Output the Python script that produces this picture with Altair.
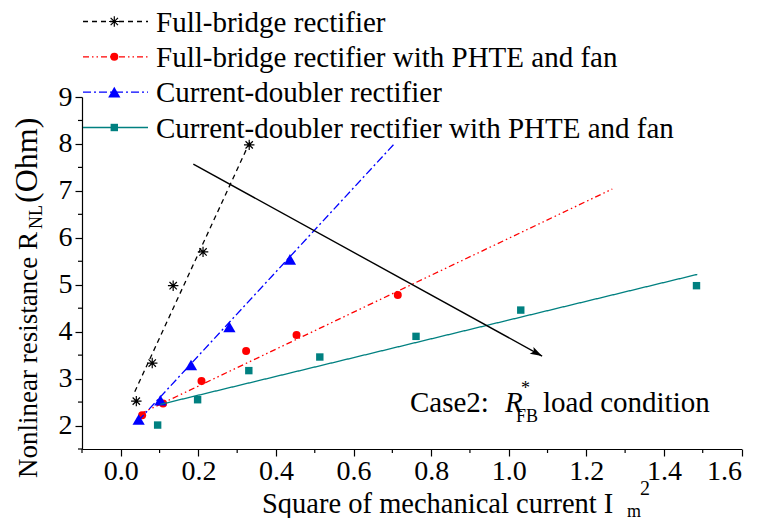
import altair as alt
import pandas as pd

# ---------------- data ----------------
fb_x = [0.040, 0.081, 0.135, 0.212, 0.331]
fb_y = [2.52, 3.33, 4.98, 5.70, 7.98]
fbp_x = [0.055, 0.109, 0.208, 0.323, 0.453, 0.714]
fbp_y = [2.22, 2.47, 2.95, 3.59, 3.93, 4.78]
cd_x = [0.046, 0.102, 0.181, 0.280, 0.436]
cd_y = [2.13, 2.54, 3.29, 4.10, 5.54]
cdp_x = [0.095, 0.198, 0.330, 0.513, 0.761, 1.031, 1.484]
cdp_y = [2.01, 2.55, 3.17, 3.46, 3.90, 4.46, 4.98]

# fitted lines (end points)
fb_fit_x = [0.036, 0.333]
fb_fit_y = [2.72, 8.05]
fbp_fit_x = [0.050, 1.267]
fbp_fit_y = [2.25, 7.04]
cd_fit_x = [0.045, 0.708]
cd_fit_y = [2.10, 8.03]
cdp_fit_x = [0.102, 1.486]
cdp_fit_y = [2.45, 5.22]

# arrow
arrow_x = [0.187, 1.086]
arrow_y = [7.57, 3.48]

labels = ["Full-bridge rectifier",
          "Full-bridge rectifier with PHTE and fan",
          "Current-doubler rectifier",
          "Current-doubler rectifier with PHTE and fan"]

x_ticks = [0.0, 0.2, 0.4, 0.6, 0.8, 1.0, 1.2, 1.4, 1.6]
x_minor = [-0.1, 0.1, 0.3, 0.5, 0.7, 0.9, 1.1, 1.3, 1.5]
y_ticks = [2, 3, 4, 5, 6, 7, 8, 9]
y_minor = [1.5, 2.5, 3.5, 4.5, 5.5, 6.5, 7.5, 8.5]

# ---------------- styles ----------------
W, H = 659.5, 352
FONT = "'Liberation Serif', 'Times New Roman', Times, serif"
BLACK, RED, BLUE, TEAL = "#000000", "#ff0000", "#0000ff", "#008080"
STAR = "M-1,0L1,0M0,-1L0,1M-0.7,-0.7L0.7,0.7M-0.7,0.7L0.7,-0.7"
HEAD = "M0,0L-1,-0.32L-0.78,0L-1,0.32Z"
styles = [
    dict(color=BLACK, dash=[5, 4], shape=STAR, filled=False, size=110),
    dict(color=RED, dash=[6, 3, 1.5, 3, 1.5, 3], shape="circle", filled=True, size=64),
    dict(color=BLUE, dash=[8, 3, 2, 3], shape="triangle-up", filled=True, size=150),
    dict(color=TEAL, dash=[1, 0], shape="square", filled=True, size=55),
]

xs = alt.Scale(domain=[-0.1, 1.6], nice=False, zero=False)
ys = alt.Scale(domain=[1.5, 9], nice=False, zero=False)

axis_common = dict(domainColor="black", domainWidth=1.2, tickColor="black", tickWidth=1.2,
                   tickSize=7, labelFont=FONT, labelFontSize=28, labelColor="black",
                   grid=False, title=None)

xaxis = alt.Axis(values=x_ticks, format=".1f", labelPadding=1, **axis_common)
yaxis = alt.Axis(values=y_ticks, format="d", labelPadding=3, **axis_common)

series = [(fb_x, fb_y, fb_fit_x, fb_fit_y), (fbp_x, fbp_y, fbp_fit_x, fbp_fit_y),
          (cd_x, cd_y, cd_fit_x, cd_fit_y), (cdp_x, cdp_y, cdp_fit_x, cdp_fit_y)]

layers = []
first = True
for (px, py, fx, fy), st in zip(series, styles):
    fit = pd.DataFrame({"x": fx, "y": fy})
    pts = pd.DataFrame({"x": px, "y": py})
    if first:
        xe = alt.X("x:Q", scale=xs, axis=xaxis)
        ye = alt.Y("y:Q", scale=ys, axis=yaxis)
        first = False
    else:
        xe = alt.X("x:Q", scale=xs)
        ye = alt.Y("y:Q", scale=ys)
    layers.append(alt.Chart(fit).mark_line(color=st["color"], strokeWidth=1.3,
                                           strokeDash=st["dash"]).encode(x=xe, y=ye))
    layers.append(alt.Chart(pts).mark_point(shape=st["shape"], filled=st["filled"],
                                            color=st["color"], size=st["size"],
                                            opacity=1, strokeWidth=1.2).encode(
        x=alt.X("x:Q", scale=xs), y=alt.Y("y:Q", scale=ys)))

# arrow
adf = pd.DataFrame({"x": arrow_x, "y": arrow_y})
layers.append(alt.Chart(adf).mark_line(color="black", strokeWidth=1.4).encode(
    x=alt.X("x:Q", scale=xs), y=alt.Y("y:Q", scale=ys)))
layers.append(alt.Chart(adf.tail(1)).mark_point(shape=HEAD, filled=True, color="black",
                                                 size=576, opacity=1, angle=28.8).encode(
    x=alt.X("x:Q", scale=xs), y=alt.Y("y:Q", scale=ys)))

# minor ticks
layers.append(alt.Chart(pd.DataFrame({"x": x_minor})).mark_rule(color="black", strokeWidth=1.2).encode(
    x=alt.X("x:Q", scale=xs), y=alt.value(H), y2=alt.value(H + 4)))
layers.append(alt.Chart(pd.DataFrame({"y": y_minor})).mark_rule(color="black", strokeWidth=1.2).encode(
    y=alt.Y("y:Q", scale=ys), x=alt.value(0), x2=alt.value(-4)))

# legend (custom)
one = pd.DataFrame({"a": [0]})
leg_rows = [-75.5, -40.2, -4.9, 30.5]
for lab, st, ry in zip(labels, styles, leg_rows):
    layers.append(alt.Chart(one).mark_rule(color=st["color"], strokeWidth=1.3,
                                           strokeDash=st["dash"]).encode(
        x=alt.value(1), x2=alt.value(66), y=alt.value(ry)))
    layers.append(alt.Chart(one).mark_point(shape=st["shape"], filled=st["filled"],
                                            color=st["color"], size=st["size"],
                                            opacity=1, strokeWidth=1.2).encode(
        x=alt.value(32.3), y=alt.value(ry)))
    layers.append(alt.Chart(one).mark_text(text=lab, font=FONT, fontSize=29, align="left",
                                           baseline="middle", color="black", dy=1).encode(
        x=alt.value(74), y=alt.value(ry)))


def txt(t, x, y, size=29, style="normal", angle=0, align="left", baseline="alphabetic"):
    return alt.Chart(one).mark_text(text=t, font=FONT, fontSize=size, fontStyle=style,
                                    align=align, baseline=baseline, angle=angle,
                                    color="black").encode(x=alt.value(x), y=alt.value(y))


# annotation "Case2: R*_FB load condition"
layers += [
    txt("Case2:", 328, 314.5),
    txt("R", 423, 314.5, style="italic"),
    txt("*", 439, 297, size=18),
    txt("FB", 434, 325, size=18),
    txt("load condition", 461, 314.5),
]

# x title
layers += [
    txt("Square of mechanical current I", 180, 416, size=28.5),
    txt("m", 545, 420, size=18),
    txt("2", 558, 398, size=20),
]

# y title (rotated)
layers += [
    txt("Nonlinear resistance R", -45, 381, size=27, angle=270),
    txt("NL", -40, 132, size=18, angle=270),
    txt("(Ohm)", -45, 106, size=32, angle=270),
]

chart = alt.layer(*layers).properties(
    width=W, height=H,
    background="white",
    autosize=alt.AutoSizeParams(type="none"),
    padding={"left": 74, "top": 89, "right": 14, "bottom": 69},
).configure_view(strokeWidth=0)

chart.save("out.html", embed_options={"renderer": "svg", "actions": False})
